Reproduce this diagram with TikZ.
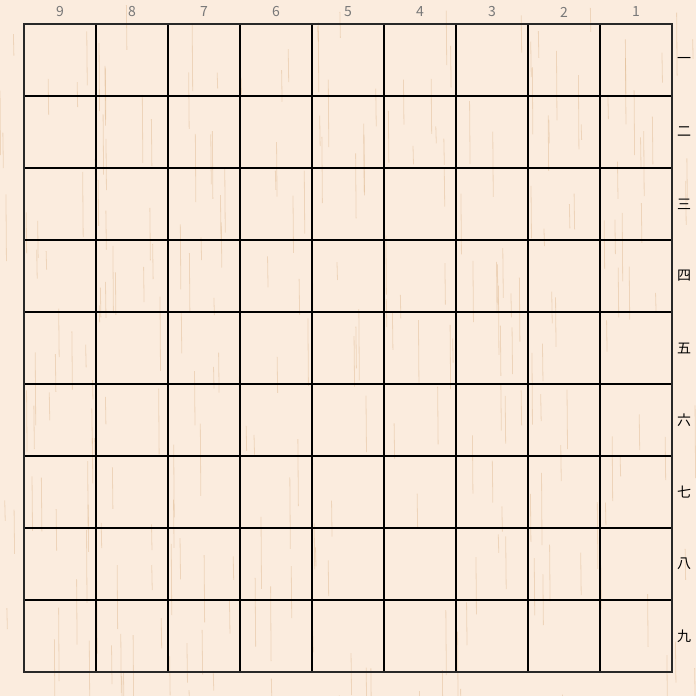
\documentclass[tikz,border=0pt]{standalone}
\usepackage{fontspec}
\newfontfamily\cjk{Noto Sans CJK JP}
\definecolor{wood}{RGB}{251,236,222}
\definecolor{grain}{RGB}{215,170,120}
\definecolor{numgray}{RGB}{120,120,120}
\definecolor{edge}{RGB}{40,40,40}
\tikzset{
  filelabel/.style={font=\cjk\fontsize{14pt}{16pt}\selectfont, text=numgray, inner sep=0pt},
  ranklabel/.style={font=\cjk\fontsize{14pt}{16pt}\selectfont, text=black, inner sep=0pt},
  gridline/.style={line width=1.6pt, black},
  outerline/.style={line width=1.8pt, edge},
  grainline/.style={grain, line width=0.8pt, opacity=0.35}
}
\begin{document}
\begin{tikzpicture}[x=1pt,y=-1pt]
\fill[wood] (0,0) rectangle (696,696);
\useasboundingbox (0,0) rectangle (696,696);
\pgfmathsetseed{7}
\foreach \g in {1,...,260} {
  \pgfmathsetmacro{\gx}{696*rnd}
  \pgfmathsetmacro{\gy}{696*rnd}
  \pgfmathsetmacro{\gl}{15+60*rnd}
  \draw[grainline] (\gx,\gy) -- (\gx+0.5,\gy+\gl);
}
\foreach \i in {1,...,8} {
  \draw[gridline] (24+72*\i,24) -- (24+72*\i,672);
  \draw[gridline] (24,24+72*\i) -- (672,24+72*\i);
}
\draw[outerline] (24,24) rectangle (672,672);
\foreach \n [count=\c from 0] in {9,8,7,6,5,4,3,2,1}
  \node[filelabel] (f\n) at (60+72*\c,12) {\n};
\foreach \k [count=\r from 0] in {一,二,三,四,五,六,七,八,九}
  \node[ranklabel] (r\r) at (684,60+72*\r) {\k};
\end{tikzpicture}
\end{document}
